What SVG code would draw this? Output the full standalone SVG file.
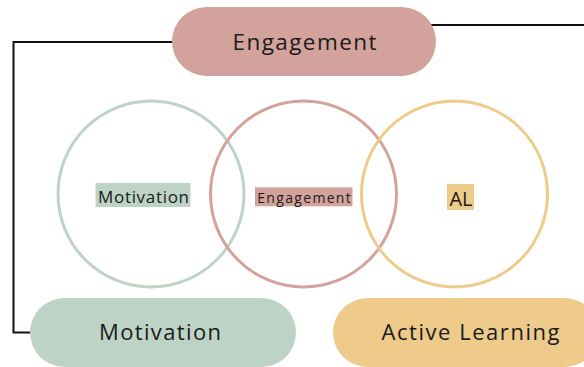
<svg xmlns="http://www.w3.org/2000/svg" width="584" height="367" viewBox="0 0 584 367">
  <style>
    text { font-family: "Open Sans", "Liberation Sans", sans-serif; fill: #1a1a1a; text-anchor: middle; font-variant-ligatures: none; }
    .conn { fill: none; stroke: #111; stroke-width: 2; }
    .ring { fill: none; stroke-width: 3; }
    .green { fill: #bdd3c6; }
    .pink { fill: #d4a29c; }
    .yellow { fill: #eecb8a; }
  </style>
  <rect width="584" height="367" fill="#ffffff"/>
  <g id="connectors">
    <path class="conn" d="M 180 42 H 13.5 V 332.5 H 40"/>
    <path class="conn" d="M 420 25 H 584"/>
  </g>
  <g id="node-engagement-top">
    <rect class="pink" x="172" y="7" width="264" height="69" rx="34.5"/>
    <text x="304.5" y="50" font-size="22.5" textLength="144" lengthAdjust="spacing">Engagement</text>
  </g>
  <g id="circle-motivation">
    <circle class="ring" cx="151" cy="194" r="93" stroke="#bdd3c6"/>
    <rect class="green" x="95.5" y="183" width="95" height="24"/>
    <text x="143.5" y="202.7" font-size="17" textLength="91" lengthAdjust="spacing">Motivation</text>
  </g>
  <g id="circle-engagement">
    <circle class="ring" cx="303.5" cy="194" r="93" stroke="#d4a29c"/>
    <rect class="pink" x="255" y="187.3" width="97.5" height="19"/>
    <text x="304" y="202.7" font-size="14" textLength="93.5" lengthAdjust="spacing">Engagement</text>
  </g>
  <g id="circle-al">
    <circle class="ring" cx="454.5" cy="194" r="93" stroke="#eecb8a"/>
    <rect class="yellow" x="447" y="184" width="27" height="26"/>
    <text x="461" y="205.5" font-size="20" textLength="23" lengthAdjust="spacing">AL</text>
  </g>
  <g id="node-motivation">
    <rect class="green" x="30" y="298" width="266" height="69" rx="34.5"/>
    <text x="160" y="339.5" font-size="22" textLength="122" lengthAdjust="spacing">Motivation</text>
  </g>
  <g id="node-active-learning">
    <rect class="yellow" x="333" y="298" width="266" height="69" rx="34.5"/>
    <text x="470.5" y="339.5" font-size="22" textLength="178" lengthAdjust="spacing">Active Learning</text>
  </g>
</svg>
